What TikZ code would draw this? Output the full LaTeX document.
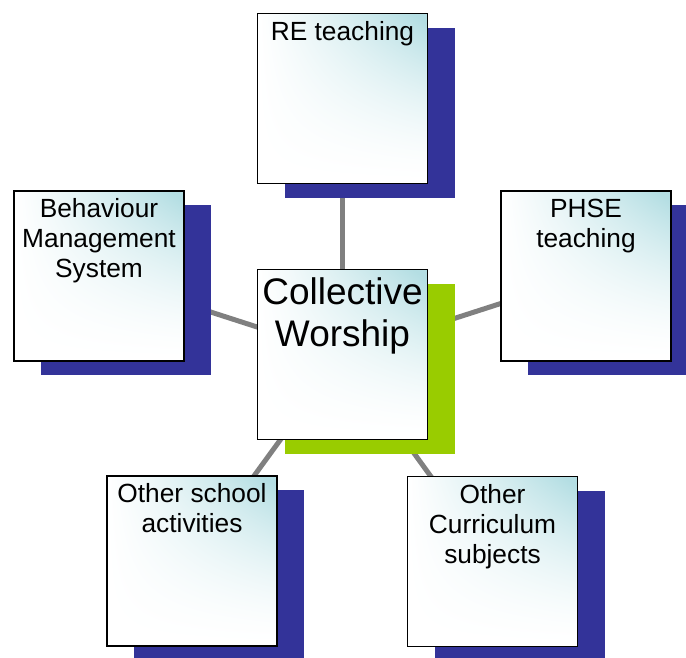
\documentclass[tikz,border=0pt]{standalone}
\usepackage{fontspec}
\setmainfont{Liberation Sans}
\usetikzlibrary{shadows,backgrounds}

\definecolor{shadowblue}{RGB}{51,51,153}
\definecolor{leafgreen}{RGB}{153,204,0}

% pale teal in the upper right corner, white elsewhere
\pgfdeclarefunctionalshading{cornerglow}{\pgfpoint{-50bp}{-50bp}}{\pgfpoint{50bp}{50bp}}{}{
	25 add 50 div dup 0 lt {pop 0} if dup 1 gt {pop 1} if 1.6 exp
	exch
	25 add 50 div dup 0 lt {pop 0} if dup 1 gt {pop 1} if 1.1 exp
	mul 1.1 mul dup 1 gt {pop 1} if
	dup dup 0.294 mul 1 exch sub 3 1 roll
	0.129 mul 1 exch sub exch 0.110 mul 1 exch sub
}

\def\bs{170pt}
\def\tf{\fontsize{26.3}{30}\selectfont}
\def\hf{\fontsize{37}{42}\selectfont}

\begin{document}
\begin{tikzpicture}[x=1pt, y=-1pt,
	card/.style={rectangle,draw=black,line width=1.6pt,minimum size=\bs,inner sep=0,shade,shading=cornerglow},
	topic/.style={card,drop shadow={shadow xshift=27pt,shadow yshift=-14pt,fill=shadowblue,opacity=1}},
	hub/.style={card,drop shadow={shadow xshift=27pt,shadow yshift=-14pt,fill=leafgreen,opacity=1}},
	caption/.style={anchor=north,align=center,inner sep=0,yshift=-8.5pt}]
	
	\useasboundingbox (0,0) rectangle (686,657);
	
	\node (CW) at (342.5,354.5) [hub,label={[caption,font=\hf]north:{Collective\\Worship}}] {};
	\node (RE) at (342.5,98.5) [topic,label={[caption,font=\tf]north:{RE teaching}}] {};
	\node (BM) at (99,276) [topic,label={[caption,font=\tf]north:{Behaviour\\Management\\System}}] {};
	\node (PH) at (586,276) [topic,label={[caption,font=\tf]north:{PHSE\\teaching}}] {};
	\node (OS) at (192,561) [topic,label={[caption,font=\tf]north:{Other school\\activities}}] {};
	\node (OC) at (492.5,561.5) [topic,label={[caption,font=\tf]north:{Other\\Curriculum\\subjects}}] {};
	
	\begin{scope}[on background layer]
		\draw[-,gray,line width=5pt] (CW.center) to (RE.center);
		\draw[-,gray,line width=5pt] (CW.center) to (BM.center);
		\draw[-,gray,line width=5pt] (CW.center) to (PH.center);
		\draw[-,gray,line width=5pt] (CW.center) to (OS.center);
		\draw[-,gray,line width=5pt] (CW.center) to (OC.center);
	\end{scope}

\end{tikzpicture}
\end{document}
